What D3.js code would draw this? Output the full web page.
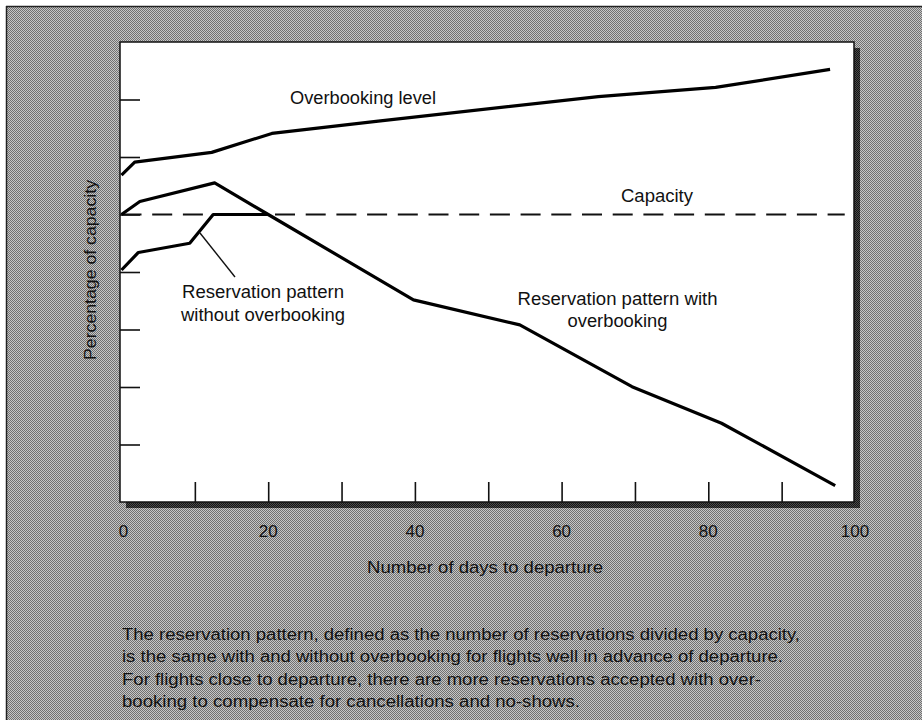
<!DOCTYPE html>
<html>
<head>
<meta charset="utf-8">
<script src="https://cdn.jsdelivr.net/npm/d3@7"></script>
<style>
  html, body { margin: 0; padding: 0; background: #fff; }
  svg { display: block; }
  text { font-family: "Liberation Sans", Arial, Helvetica, sans-serif; fill: #111; }
</style>
</head>
<body>
<script>
// ---- Data ----
const xTickValues = [0, 10, 20, 30, 40, 50, 60, 70, 80, 90, 100];
const xTickLabels = ["0", "20", "40", "60", "80", "100"];
const yTickValues = [20, 40, 60, 80, 100, 120, 140];

const overbookingDays  = [0, 1.8, 12.3, 20.5, 35, 65, 81, 96.6];
const overbookingLevel = [113.7, 118.2, 121.6, 128.2, 132.5, 141, 144.2, 150.5];

const withOverbookingDays   = [0, 2.5, 12.7, 20, 39.8, 54.3, 69.6, 81.8, 97.3];
const withOverbookingValues = [100, 104.5, 111, 100, 70.3, 61.6, 40.1, 27.4, 5.7];

const withoutOverbookingDays   = [0, 2.3, 9.3, 12.5, 20];
const withoutOverbookingValues = [80.7, 86.8, 90, 100, 100];

const capacityDays   = [0, 98.6];
const capacityValues = [100, 100];

const captionLines = [
  "The reservation pattern, defined as the number of reservations divided by capacity,",
  "is the same with and without overbooking for flights well in advance of departure.",
  "For flights close to departure, there are more reservations accepted with over-",
  "booking to compensate for cancellations and no-shows."
];

// ---- Layout ----
const W = 922, H = 720;
const plot = { x0: 120, x1: 854, y0: 42, y1: 502 };

const svg = d3.select("body").append("svg")
  .attr("width", W).attr("height", H);

const defs = svg.append("defs");
const pat = defs.append("pattern").attr("id", "halftone")
  .attr("width", 2).attr("height", 2).attr("patternUnits", "userSpaceOnUse");
pat.append("rect").attr("width", 2).attr("height", 2).attr("fill", "#c6c6c6");
pat.append("rect").attr("x", 0).attr("y", 0).attr("width", 1).attr("height", 1).attr("fill", "#707070");
pat.append("rect").attr("x", 1).attr("y", 1).attr("width", 1).attr("height", 1).attr("fill", "#707070");

const shade = defs.append("pattern").attr("id", "shadow")
  .attr("width", 2).attr("height", 2).attr("patternUnits", "userSpaceOnUse");
shade.append("rect").attr("width", 2).attr("height", 2).attr("fill", "#4a4a4a");
shade.append("rect").attr("width", 1).attr("height", 1).attr("fill", "#151515");
shade.append("rect").attr("x", 1).attr("y", 1).attr("width", 1).attr("height", 1).attr("fill", "#151515");

// outer panel
svg.append("rect").attr("x", 6).attr("y", 6).attr("width", W - 6).attr("height", H - 6)
  .attr("fill", "url(#halftone)");
svg.append("line").attr("x1", 6).attr("x2", W).attr("y1", 6.5).attr("y2", 6.5)
  .attr("stroke", "#222").attr("stroke-width", 1.5);
svg.append("line").attr("x1", 6.5).attr("x2", 6.5).attr("y1", 6).attr("y2", H)
  .attr("stroke", "#222").attr("stroke-width", 1.5);

// plot shadow + plot area
svg.append("rect")
  .attr("x", plot.x0 + 6).attr("y", plot.y0 + 6)
  .attr("width", plot.x1 - plot.x0).attr("height", plot.y1 - plot.y0)
  .attr("fill", "url(#shadow)");
svg.append("rect")
  .attr("x", plot.x0).attr("y", plot.y0)
  .attr("width", plot.x1 - plot.x0).attr("height", plot.y1 - plot.y0)
  .attr("fill", "#fff").attr("stroke", "#111").attr("stroke-width", 1.5);

// ---- Scales ----
const x = d3.scaleLinear().domain([0, 100]).range([121.5, 855]);
const y = d3.scaleLinear().domain([0, 160]).range([plot.y1, plot.y0]);

// ---- Axes (ticks inside the plot) ----
const xAxis = d3.axisTop(x).tickValues(xTickValues).tickSize(20).tickFormat("");
const gx = svg.append("g").attr("transform", `translate(0,${plot.y1})`).call(xAxis);
gx.select(".domain").remove();
gx.selectAll(".tick line").attr("stroke", "#111").attr("stroke-width", 1.6);
gx.selectAll(".tick").filter(d => d === 0 || d === 100).remove();

const yAxis = d3.axisRight(y).tickValues(yTickValues).tickSize(20).tickFormat("");
const gy = svg.append("g").attr("transform", `translate(${plot.x0},0)`).call(yAxis);
gy.select(".domain").remove();
gy.selectAll(".tick line").attr("stroke", "#111").attr("stroke-width", 1.6);

// x tick labels
svg.append("g").selectAll("text")
  .data(xTickLabels)
  .join("text")
  .attr("x", d => x(+d) + (d === "0" ? 2 : 0))
  .attr("y", 537)
  .attr("text-anchor", "middle")
  .attr("font-size", 17)
  .text(d => d);

// axis titles
svg.append("text")
  .attr("x", 485).attr("y", 573)
  .attr("text-anchor", "middle")
  .attr("font-size", 17)
  .attr("textLength", 236).attr("lengthAdjust", "spacingAndGlyphs")
  .text("Number of days to departure");

svg.append("text")
  .attr("transform", "translate(96,270) rotate(-90)")
  .attr("text-anchor", "middle")
  .attr("font-size", 16)
  .attr("textLength", 180).attr("lengthAdjust", "spacingAndGlyphs")
  .text("Percentage of capacity");

// ---- Lines ----
const line = d3.line().x(d => x(d[0])).y(d => y(d[1]));
const zip = (a, b) => a.map((v, i) => [v, b[i]]);

svg.append("path")
  .datum(zip(capacityDays, capacityValues))
  .attr("d", line)
  .attr("fill", "none").attr("stroke", "#111").attr("stroke-width", 2)
  .attr("stroke-dasharray", "20,10.7");

svg.append("path")
  .datum(zip(overbookingDays, overbookingLevel))
  .attr("d", line)
  .attr("fill", "none").attr("stroke", "#000").attr("stroke-width", 3.2)
  .attr("stroke-linejoin", "round");

svg.append("path")
  .datum(zip(withOverbookingDays, withOverbookingValues))
  .attr("d", line)
  .attr("fill", "none").attr("stroke", "#000").attr("stroke-width", 3.2)
  .attr("stroke-linejoin", "round");

svg.append("path")
  .datum(zip(withoutOverbookingDays, withoutOverbookingValues))
  .attr("d", line)
  .attr("fill", "none").attr("stroke", "#000").attr("stroke-width", 3.2)
  .attr("stroke-linejoin", "round");

// ---- Annotations ----
svg.append("line")
  .attr("x1", 200).attr("y1", 233).attr("x2", 235).attr("y2", 277)
  .attr("stroke", "#111").attr("stroke-width", 1.4);

function label(lines, cx, y0, lh, lengths) {
  lines.forEach((t, i) => {
    svg.append("text")
      .attr("x", cx).attr("y", y0 + i * lh)
      .attr("text-anchor", "middle")
      .attr("font-size", 17.5)
      .attr("textLength", lengths[i]).attr("lengthAdjust", "spacingAndGlyphs")
      .text(t);
  });
}
label(["Overbooking level"], 363, 104, 0, [146]);
label(["Capacity"], 657, 202, 0, [72]);
label(["Reservation pattern", "without overbooking"], 263, 298, 23, [162, 164]);
label(["Reservation pattern with", "overbooking"], 617.5, 305, 22, [200, 100]);

// ---- Caption ----
const captionWidths = [678, 661, 639, 458];
svg.append("g").selectAll("text")
  .data(captionLines)
  .join("text")
  .attr("x", 122)
  .attr("y", (d, i) => 640 + i * 22.3)
  .attr("font-size", 16)
  .attr("textLength", (d, i) => captionWidths[i])
  .attr("lengthAdjust", "spacingAndGlyphs")
  .text(d => d);
</script>
</body>
</html>
